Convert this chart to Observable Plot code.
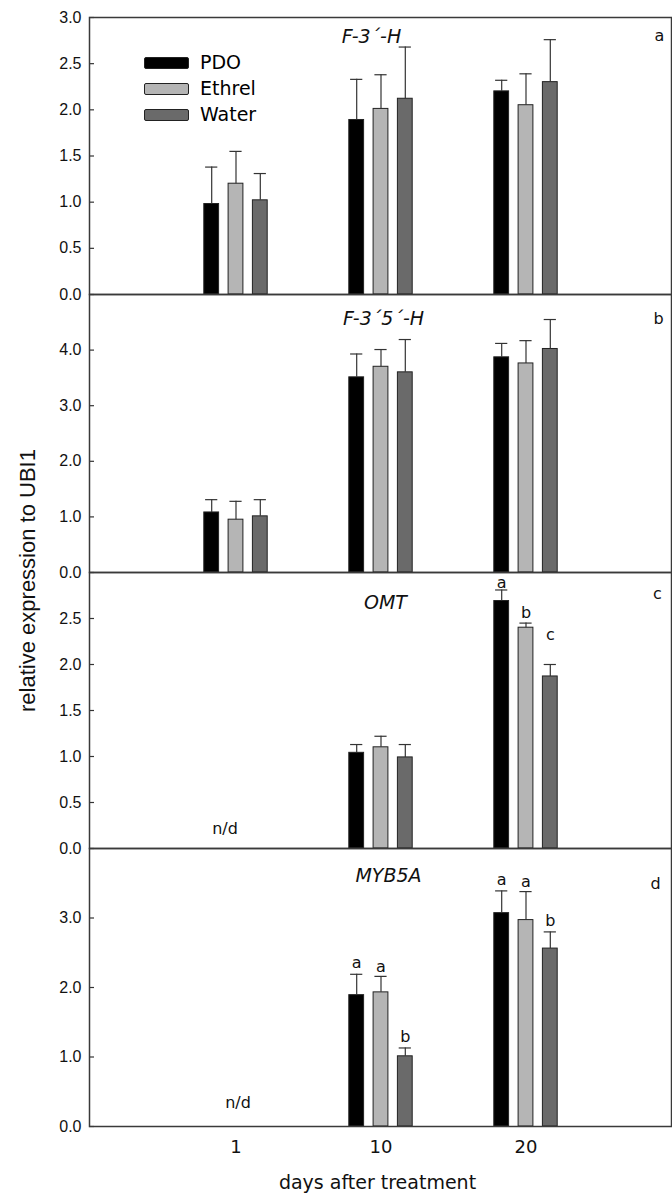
<!DOCTYPE html>
<html>
<head>
<meta charset="utf-8">
<script src="https://cdn.jsdelivr.net/npm/d3@7"></script>
<script src="https://cdn.jsdelivr.net/npm/@observablehq/plot@0.6"></script>
<style>
  body { margin: 0; background: #fff; }
  #chart { position: relative; width: 672px; height: 1194px; background: #fff; overflow: hidden; }
  #chart svg.panel { position: absolute; left: 0; }
  .legend { position: absolute; left: 144px; top: 57px; font-family: "DejaVu Sans", Verdana, sans-serif; font-size: 19px; color: #000; }
  .legend .row { position: absolute; left: 0; height: 12px; white-space: nowrap; }
  .legend .sw { position: absolute; left: 0; top: 0; width: 43px; height: 10px; border: 1px solid #222; border-radius: 2px; }
  .legend .lab { position: absolute; left: 56px; top: -5px; line-height: 20px; }
</style>
</head>
<body>
<div id="chart"></div>
<script>
// ---------- data ----------
const days = ["1", "10", "20"];
const treatments = ["PDO", "Ethrel", "Water"];
const fills = ["#000000", "#b5b5b5", "#6a6a6a"];

const genes = ["F-3´-H", "F-3´5´-H", "OMT", "MYB5A"];
const panelLetters = ["a", "b", "c", "d"];
const yMax = [3, 5, 3, 4];
const yTicksA = [0, 0.5, 1.0, 1.5, 2.0, 2.5, 3.0];
const yTicksB = [0, 1, 2, 3, 4];
const yTicksC = [0, 0.5, 1.0, 1.5, 2.0, 2.5];
const yTicksD = [0, 1, 2, 3];

// rows: PDO, Ethrel, Water ; columns: day 1, 10, 20
const f3hMean = [[0.98, 1.89, 2.20], [1.20, 2.01, 2.05], [1.02, 2.12, 2.30]];
const f3hSE   = [[0.40, 0.44, 0.12], [0.35, 0.37, 0.34], [0.29, 0.56, 0.46]];

const f35hMean = [[1.08, 3.51, 3.87], [0.95, 3.70, 3.76], [1.01, 3.60, 4.02]];
const f35hSE   = [[0.23, 0.42, 0.25], [0.33, 0.31, 0.41], [0.30, 0.59, 0.53]];

const omtMean = [[null, 1.04, 2.69], [null, 1.10, 2.40], [null, 0.99, 1.87]];
const omtSE   = [[null, 0.09, 0.12], [null, 0.12, 0.05], [null, 0.14, 0.13]];
const omtLetters = [[null, null, "a"], [null, null, "b"], [null, null, "c"]];

const mybMean = [[null, 1.89, 3.07], [null, 1.93, 2.97], [null, 1.01, 2.56]];
const mybSE   = [[null, 0.30, 0.32], [null, 0.23, 0.41], [null, 0.12, 0.24]];
const mybLetters = [[null, "a", "a"], [null, "a", "a"], [null, "b", "b"]];

const notDetected = [null, null, "n/d", "n/d"];

// ---------- build ----------
function buildRows(mean, se, letters) {
  const out = [];
  treatments.forEach((t, i) => days.forEach((d, j) => {
    if (mean[i][j] == null) return;
    out.push({day: d, trt: t, ti: i, mean: mean[i][j], top: mean[i][j] + se[i][j],
              letter: letters ? letters[i][j] : null});
  }));
  return out;
}

const panels = [
  {rows: buildRows(f3hMean, f3hSE), ticks: yTicksA, top: 17, bottom: 294,
   titleDx: -9, titleDy: 19, cornerDx: -12, cornerDy: 18, letterDy: [-11, -11, -11]},
  {rows: buildRows(f35hMean, f35hSE), ticks: yTicksB, top: 294, bottom: 572,
   titleDx: 3, titleDy: 24, cornerDx: -13, cornerDy: 24, letterDy: [-11, -11, -11]},
  {rows: buildRows(omtMean, omtSE, omtLetters), ticks: yTicksC, top: 572, bottom: 848,
   titleDx: 5, titleDy: 30, cornerDx: -14, cornerDy: 21, letterDy: [-7, -10, -30], ndDx: -11, ndDy: -20},
  {rows: buildRows(mybMean, mybSE, mybLetters), ticks: yTicksD, top: 848, bottom: 1126,
   titleDx: 8, titleDy: 27, cornerDx: -16, cornerDy: 35, letterDy: [-11, -10, -11], ndDx: 2, ndDy: -24}
];

const chart = document.getElementById("chart");
const step = 24.3;
const mt = 10;
const labelFont = "'DejaVu Sans', Verdana, sans-serif";

panels.forEach((p, k) => {
  const last = k === panels.length - 1;
  const mb = last ? 1194 - p.bottom : 10;
  const marks = [];
  treatments.forEach((t, i) => {
    const data = p.rows.filter(r => r.ti === i);
    const dx = (i - 1) * step;
    marks.push(Plot.barY(data, {x: "day", y: "mean", fill: fills[i], stroke: "#222", strokeWidth: 1,
                                insetLeft: 29.1, insetRight: 29.1, dx}));
    marks.push(Plot.ruleX(data, {x: "day", y1: "mean", y2: "top", stroke: "#333", strokeWidth: 1.2, dx}));
    marks.push(Plot.tickY(data, {x: "day", y: "top", stroke: "#333", strokeWidth: 1.2,
                                 insetLeft: 30.4, insetRight: 30.4, dx}));
    marks.push(Plot.text(data.filter(d => d.letter), {x: "day", y: "top", text: "letter", dx, dy: p.letterDy[i],
                                 fontFamily: labelFont, fontSize: 16, fill: "#111", lineAnchor: "middle"}));
  });
  if (notDetected[k]) {
    marks.push(Plot.text([{day: days[0], v: 0, t: notDetected[k]}],
      {x: "day", y: "v", text: "t", dx: p.ndDx, dy: p.ndDy, fontFamily: labelFont, fontSize: 16,
       fill: "#111", lineAnchor: "middle"}));
  }
  marks.push(Plot.text([genes[k]], {frameAnchor: "top", dx: p.titleDx, dy: p.titleDy, lineAnchor: "middle",
    fontFamily: labelFont, fontStyle: "italic", fontSize: 19, fill: "#111"}));
  marks.push(Plot.text([panelLetters[k]], {frameAnchor: "top-right", textAnchor: "middle", lineAnchor: "middle",
    dx: p.cornerDx, dy: p.cornerDy, fontFamily: labelFont, fontSize: 16, fill: "#111"}));
  // tick labels (outside) and inward tick marks
  marks.push(Plot.axisY(p.ticks, {tickFormat: d3.format(".1f"), tickSize: 0, tickPadding: 8,
    fontSize: 16, fill: "#111", label: null}));
  marks.push(Plot.axisY(p.ticks, {tickFormat: () => "", tickSize: 5, tickPadding: 0, dx: 5,
    stroke: "#333", strokeWidth: 1.2, label: null}));
  if (k === 2) {
    marks.push(Plot.text(["relative expression to UBI1"], {frameAnchor: "top-left", rotate: -90,
      textAnchor: "middle", lineAnchor: "middle", dx: -62, dy: 8, fontSize: 22, fill: "#111"}));
  }
  if (last) {
    marks.push(Plot.axisX({tickSize: 0, tickPadding: 14, fontSize: 18, fontFamily: labelFont,
      fill: "#111", label: null}));
    marks.push(Plot.text(["days after treatment"], {frameAnchor: "bottom", dx: -3, dy: 56, lineAnchor: "middle",
      fontFamily: labelFont, fontSize: 19, fill: "#111"}));
  }
  marks.push(Plot.frame({stroke: "#3a3a3a", strokeWidth: 1.5}));

  const svg = Plot.plot({
    width: 672,
    height: mt + (p.bottom - p.top) + mb,
    marginTop: mt, marginBottom: mb, marginLeft: 89, marginRight: 1,
    x: {domain: days, paddingInner: 0.5, paddingOuter: 0.75, axis: last ? undefined : null},
    y: {domain: [0, yMax[k]], axis: null},
    style: {background: "transparent", overflow: "visible", fontFamily: "'Liberation Sans', Arial, sans-serif",
            fontSize: "15px", color: "#111"},
    marks
  });
  svg.classList.add("panel");
  svg.style.top = (p.top - mt) + "px";
  chart.appendChild(svg);
});

// legend (inside panel a)
const legend = document.createElement("div");
legend.className = "legend";
treatments.forEach((t, i) => {
  const row = document.createElement("div");
  row.className = "row";
  row.style.top = (i * 26) + "px";
  const sw = document.createElement("div");
  sw.className = "sw";
  sw.style.background = fills[i];
  const lab = document.createElement("div");
  lab.className = "lab";
  lab.textContent = t;
  row.appendChild(sw); row.appendChild(lab);
  legend.appendChild(row);
});
chart.appendChild(legend);
</script>
</body>
</html>
